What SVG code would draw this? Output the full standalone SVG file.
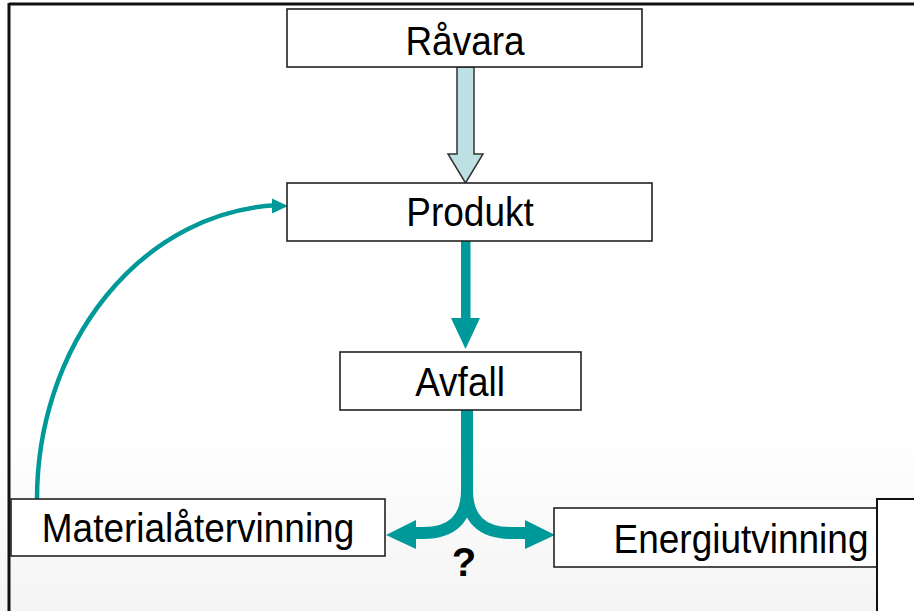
<svg xmlns="http://www.w3.org/2000/svg" width="914" height="611" viewBox="0 0 914 611">
  <defs>
    <linearGradient id="bg" x1="0" y1="0" x2="0" y2="1">
      <stop offset="0" stop-color="#ffffff"/>
      <stop offset="0.7" stop-color="#ffffff"/>
      <stop offset="1" stop-color="#f4f4f4"/>
    </linearGradient>
  </defs>
  <style>
    .box { fill: #ffffff; stroke: #222222; stroke-width: 1.6; }
    .lbl { font-family: "Liberation Sans", Arial, sans-serif; font-size: 37px; fill: #000000; text-anchor: middle; }
    .teal { stroke: #009999; fill: none; }
    .tealfill { fill: #009999; stroke: none; }
  </style>
  <rect x="0" y="0" width="914" height="611" fill="url(#bg)"/>
  <g id="frame">
    <line x1="9" y1="4" x2="914" y2="4" stroke="#111" stroke-width="3"/>
    <line x1="9" y1="3" x2="9" y2="611" stroke="#111" stroke-width="3"/>
  </g>

  <g id="connectors">
    <polygon points="457,67 474,67 474,154 483,154 465.5,183 448,154 457,154" fill="#bde0e3" stroke="#333" stroke-width="1.5" stroke-linejoin="miter"/>
    <rect class="tealfill" x="461" y="241" width="9.5" height="78"/>
    <polygon class="tealfill" points="451,318 480,318 465.5,349"/>
    <path class="teal" stroke-width="12" d="M467,410 L467,490 Q467,533 423,533 L412,533"/>
    <path class="teal" stroke-width="12" d="M467,410 L467,490 Q467,533 511,533 L528,533"/>
    <polygon class="tealfill" points="386,535 416,520 416,549"/>
    <polygon class="tealfill" points="555,535 525,520 525,549"/>
    <path class="teal" stroke-width="4.5" d="M37,499 A250,294 0 0 1 276,205.3"/>
    <polygon class="tealfill" points="288,206 272,198.5 272,213.5"/>
  </g>

  <g id="node-ravara">
    <rect class="box" x="287" y="9" width="355" height="58"/>
    <text class="lbl" transform="translate(465,55) scale(1,1.1)">Råvara</text>
  </g>
  <g id="node-produkt">
    <rect class="box" x="287" y="183" width="365" height="58"/>
    <text class="lbl" transform="translate(470,226) scale(1,1.1)">Produkt</text>
  </g>
  <g id="node-avfall">
    <rect class="box" x="340" y="352" width="241" height="58"/>
    <text class="lbl" transform="translate(460,396) scale(1,1.1)">Avfall</text>
  </g>
  <g id="node-material">
    <rect class="box" x="11" y="499" width="374" height="57"/>
    <text class="lbl" transform="translate(198,542) scale(1,1.1)">Materialåtervinning</text>
  </g>
  <g id="node-energi">
    <rect class="box" x="554" y="508" width="323" height="59"/>
    <text class="lbl" transform="translate(741,553) scale(1,1.1)">Energiutvinning</text>
  </g>
  <g id="right-panel">
    <rect x="877" y="499" width="40" height="120" fill="#ffffff" stroke="#111" stroke-width="2"/>
  </g>
  <g id="question">
    <text x="464" y="576" font-family="Liberation Sans, Arial, sans-serif" font-size="40" font-weight="bold" text-anchor="middle" fill="#000">?</text>
  </g>
</svg>
